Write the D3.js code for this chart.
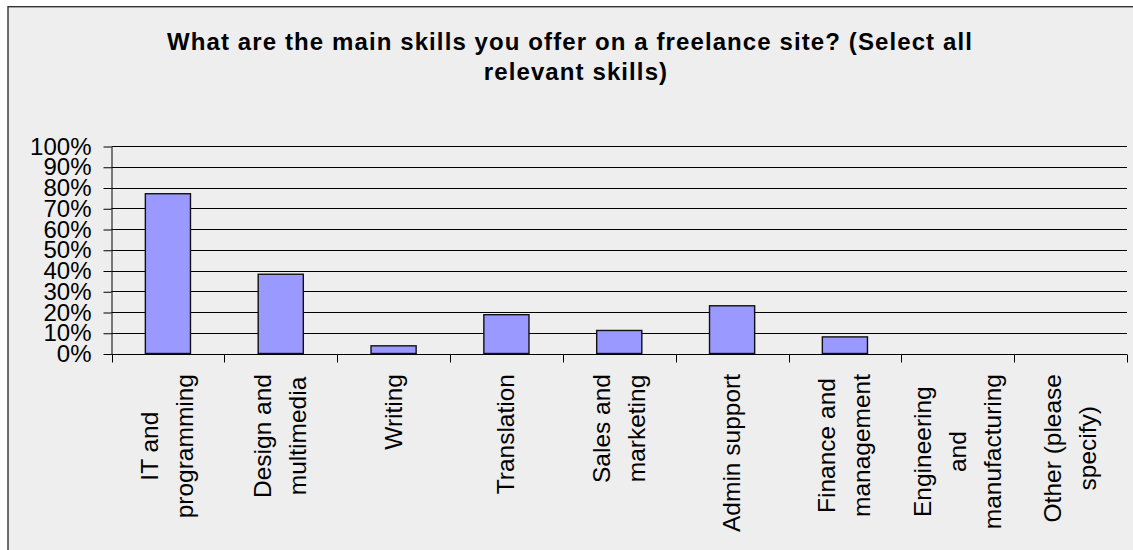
<!DOCTYPE html>
<html>
<head>
<meta charset="utf-8">
<script src="https://cdn.jsdelivr.net/npm/d3@7"></script>
<style>
body { margin: 0; background: #fff; }
svg { display: block; font-family: "Liberation Sans", Arial, sans-serif; }
</style>
</head>
<body>
<svg width="1133" height="550"></svg>
<script>
// chart data
var titleLines = ["What are the main skills you offer on a freelance site? (Select all", "relevant skills)"];
var categories = ["IT and\nprogramming", "Design and\nmultimedia", "Writing", "Translation", "Sales and\nmarketing",
                  "Admin support", "Finance and\nmanagement", "Engineering\nand\nmanufacturing", "Other (please\nspecify)"];
var values = [0.77, 0.382, 0.037, 0.187, 0.111, 0.23, 0.08, 0, 0];
var yTicks = [0, 0.1, 0.2, 0.3, 0.4, 0.5, 0.6, 0.7, 0.8, 0.9, 1];

var svg = d3.select("svg");

// chart area with border (runs off the right and bottom edges)
svg.append("rect")
    .attr("x", 8).attr("y", 6.7)
    .attr("width", 1140).attr("height", 560)
    .attr("fill", "#eeeeee")
    .attr("stroke", "#333")
    .attr("stroke-width", 1.4);

// title
svg.append("g").selectAll("text")
    .data(titleLines)
    .enter().append("text")
    .attr("x", function(d, i) { return i == 0 ? 570 : 576; })
    .attr("y", function(d, i) { return 50 + i * 30; })
    .attr("text-anchor", "middle")
    .attr("font-size", 24)
    .attr("font-weight", "bold")
    .attr("letter-spacing", "1.1px")
    .attr("fill", "#000")
    .text(function(d) { return d; });

var x = d3.scaleBand().domain(categories).range([111.5, 1127]),
    y = d3.scaleLinear().domain([0, 1]).range([353.5, 146]);

var g = svg.append("g");

// gridlines
g.selectAll(".grid")
    .data(yTicks)
    .enter().append("line")
    .attr("class", "grid")
    .attr("x1", x.range()[0]).attr("x2", x.range()[1])
    .attr("y1", function(d) { return Math.round(y(d)) + 0.5; })
    .attr("y2", function(d) { return Math.round(y(d)) + 0.5; })
    .attr("stroke", "#000")
    .attr("stroke-width", 1);

// y axis
var yAxis = g.append("g")
    .attr("transform", "translate(" + x.range()[0] + ",0.5)")
    .call(d3.axisLeft(y).tickValues(yTicks).tickSize(8).tickSizeOuter(0).tickPadding(12)
        .tickFormat(d3.format(".0%")));
yAxis.attr("font-family", null).attr("font-size", null);
yAxis.selectAll("text").attr("font-size", 24).attr("fill", "#000");
yAxis.selectAll("line, path").attr("stroke", "#000");

// x axis with ticks on category boundaries
var base = Math.round(y(0)) + 0.5;
g.append("line")
    .attr("x1", x.range()[0]).attr("x2", x.range()[1])
    .attr("y1", base).attr("y2", base)
    .attr("stroke", "#000");

var bounds = categories.map(function(d) { return x(d); }).concat([x.range()[1]]);
g.selectAll(".xtick")
    .data(bounds)
    .enter().append("line")
    .attr("class", "xtick")
    .attr("x1", function(d) { return Math.round(d) + 0.5; })
    .attr("x2", function(d) { return Math.round(d) + 0.5; })
    .attr("y1", base).attr("y2", base + 8)
    .attr("stroke", "#000");

// bars
var data = categories.map(function(c, i) { return {cat: c, value: values[i]}; });
g.selectAll(".bar")
    .data(data.filter(function(d) { return d.value > 0; }))
    .enter().append("rect")
    .attr("class", "bar")
    .attr("x", function(d) { return x(d.cat) + x.bandwidth() * 0.3; })
    .attr("y", function(d) { return y(d.value); })
    .attr("width", x.bandwidth() * 0.4)
    .attr("height", function(d) { return y(0) - y(d.value); })
    .attr("fill", "#9999ff")
    .attr("stroke", "#111")
    .attr("stroke-width", 1.4);

// rotated category labels, top aligned, lines centred on each other
var lineGap = 35;
var labels = g.selectAll(".lab")
    .data(categories)
    .enter().append("g")
    .attr("class", "lab")
    .attr("transform", function(d) { return "translate(" + (x(d) + x.bandwidth() / 2) + ",374) rotate(-90)"; });

labels.each(function(d) {
    var lines = d.split("\n"),
        n = lines.length,
        sel = d3.select(this);
    var texts = sel.selectAll("text")
        .data(lines)
        .enter().append("text")
        .attr("font-size", 24.5)
        .attr("fill", "#000")
        .attr("text-anchor", "middle")
        .attr("y", function(l, i) { return 8 + (i - (n - 1) / 2) * lineGap; })
        .text(function(l) { return l; });
    var maxLen = 0;
    texts.each(function() { maxLen = Math.max(maxLen, this.getComputedTextLength()); });
    texts.attr("x", -maxLen / 2);
});
</script>
</body>
</html>
